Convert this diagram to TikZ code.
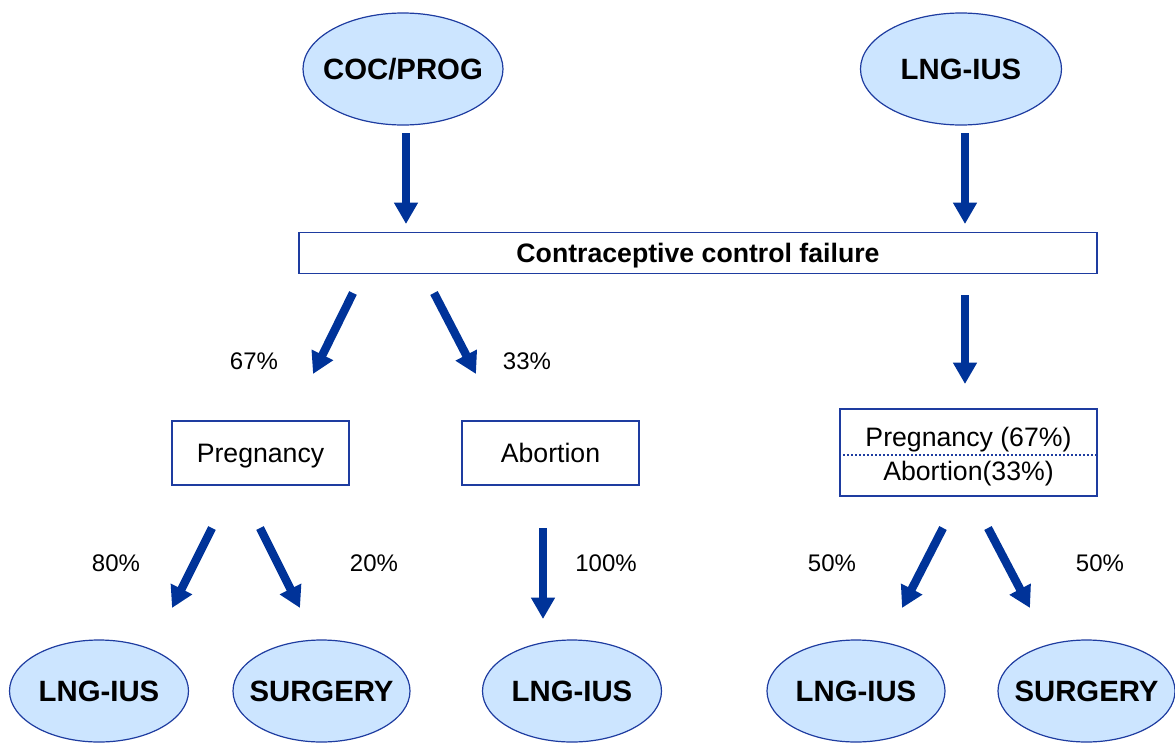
\documentclass[tikz,border=0pt]{standalone}
\usepackage{fontspec}
\setmainfont{Liberation Sans}
\usetikzlibrary{shapes.geometric,arrows.meta}
\definecolor{dblue}{RGB}{0,51,153}
\definecolor{lblue}{RGB}{204,229,255}
\definecolor{bline}{RGB}{30,60,160}
\newcommand\zw[1]{\makebox[0pt]{#1}}
\tikzset{
  oval/.style={ellipse,draw=bline,line width=0.9pt,fill=lblue,inner sep=0pt,
    text height=15.8pt,text depth=0pt,
    font=\fontsize{22}{24}\selectfont\bfseries},
  rbox/.style={draw=bline,line width=1pt,fill=white,inner sep=0pt,
    text height=14.4pt,text depth=0pt,
    font=\fontsize{20}{23}\selectfont},
  pct/.style={font=\fontsize{18}{21}\selectfont,inner sep=0pt},
  btxt/.style={font=\fontsize{20}{23}\selectfont,inner sep=0pt,anchor=base},
  barrow/.style={draw=dblue,line width=6.3pt,-{Triangle[width=17pt,length=16pt]}},
  sz/.style 2 args={minimum width={0.75*#1pt},minimum height={0.75*#2pt}},
}
\begin{document}
\begin{tikzpicture}[x=0.75pt,y=-0.75pt]
\useasboundingbox (0,0) rectangle (1175,743);
% top ellipses
\node[oval,sz={200}{112}] (coc) at (403,69) {\zw{COC/PROG}};
\node[oval,sz={201}{112}] (lngt) at (961,69) {\zw{LNG-IUS}};
% main box
\node[rbox,sz={798}{41},font=\fontsize{20}{23}\selectfont\bfseries] (fail) at (698,253) {Contraceptive control failure};
% boxes
\node[rbox,sz={177}{64}] (preg) at (260.5,453) {Pregnancy};
\node[rbox,sz={177}{64}] (abor) at (550.5,453) {Abortion};
\node[rbox,sz={257}{87}] (rb) at (968.5,452.5) {};
\node[btxt] (rbt) at (968.5,446.5) {Pregnancy (67\%)};
\node[btxt] (rbb) at (968.5,480) {Abortion(33\%)};
\coordinate (dv) at (968.5,455);
\draw[bline,dotted,line width=1pt] (rb.west |- dv) -- (rb.east |- dv);
% bottom ellipses
\node[oval,sz={179}{102}] (b1) at (99,691) {\zw{LNG-IUS}};
\node[oval,sz={177}{102}] (b2) at (321.5,691) {\zw{SURGERY}};
\node[oval,sz={179}{102}] (b3) at (572,691) {\zw{LNG-IUS}};
\node[oval,sz={178}{102}] (b4) at (856,691) {\zw{LNG-IUS}};
\node[oval,sz={177}{102}] (b5) at (1086.5,691) {\zw{SURGERY}};
% arrow endpoints
\coordinate (a1s) at (406,133); \coordinate (a1e) at (406,224);
\coordinate (a2s) at (965,133); \coordinate (a2e) at (965,224);
\coordinate (a3s) at (353,293); \coordinate (a3e) at (313,374);
\coordinate (a4s) at (434,293); \coordinate (a4e) at (476,374);
\coordinate (a5s) at (965,295); \coordinate (a5e) at (965,384);
\coordinate (a6s) at (212,528); \coordinate (a6e) at (172,608);
\coordinate (a7s) at (260,528); \coordinate (a7e) at (300,608);
\coordinate (a8s) at (543,528); \coordinate (a8e) at (543,619);
\coordinate (a9s) at (943,528); \coordinate (a9e) at (902,608);
\coordinate (a10s) at (988,528); \coordinate (a10e) at (1030,608);
\foreach \i in {1,...,10} {\draw[barrow] (a\i s) -- (a\i e);}
% labels
\node[pct] (p1) at (254,361) {67\%};
\node[pct] (p2) at (527,361) {33\%};
\node[pct] (p3) at (116,563) {80\%};
\node[pct] (p4) at (374,563) {20\%};
\node[pct] (p5) at (606,563) {100\%};
\node[pct] (p6) at (832,563) {50\%};
\node[pct] (p7) at (1100,563) {50\%};
\end{tikzpicture}
\end{document}
